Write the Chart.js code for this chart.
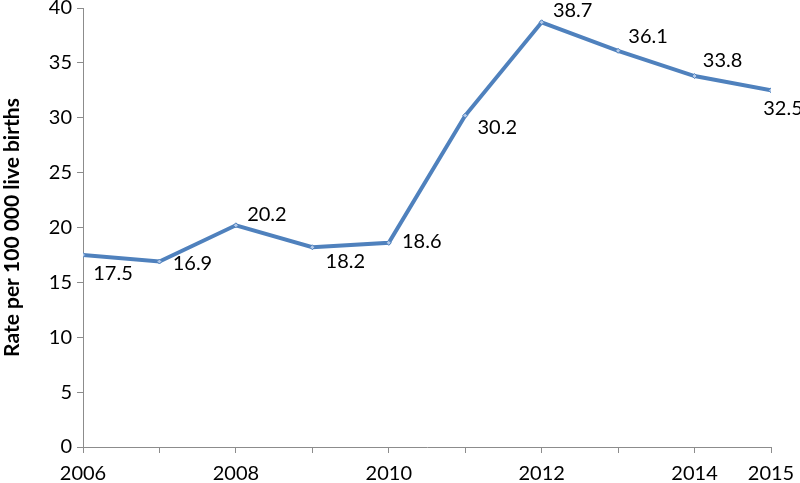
<!DOCTYPE html>
<html>
<head>
<meta charset="utf-8">
<script src="https://cdn.jsdelivr.net/npm/chart.js@4/dist/chart.umd.min.js"></script>
<style>
  html, body { margin: 0; padding: 0; background: #fff; }
  #wrap { width: 800px; height: 483px; }
</style>
</head>
<body>
<div id="wrap"><canvas id="rateChart"></canvas></div>
<script>
let years = [2006, 2007, 2008, 2009, 2010, 2011, 2012, 2013, 2014, 2015];
let rates = [17.5, 16.9, 20.2, 18.2, 18.6, 30.2, 38.7, 36.1, 33.8, 32.5];
let labeledYears = [2006, 2008, 2010, 2012, 2014, 2015];
let yTicks = [0, 5, 10, 15, 20, 25, 30, 35, 40];

// where each value label sits relative to its point (dx, dy in px)
let labelOffsets = [[30, 19], [33, 2], [31, -11], [33, 14], [33, -1], [32, 12], [31, -12], [30, -14], [28, -15], [12, 18]];

let valueLabels = {
  id: 'valueLabels',
  afterDatasetsDraw(chart) {
    let ctx = chart.ctx;
    let meta = chart.getDatasetMeta(0);
    ctx.save();
    ctx.font = '20px Lato, "Open Sans", sans-serif';
    ctx.fillStyle = '#000';
    ctx.textAlign = 'center';
    ctx.textBaseline = 'middle';
    meta.data.forEach(function (pt, i) {
      let off = labelOffsets[i];
      ctx.fillText(rates[i].toFixed(1), pt.x + off[0], pt.y + off[1]);
    });
    ctx.restore();
  }
};

let ctx = document.getElementById('rateChart').getContext('2d');
let rateChart = new Chart(ctx, {
  type: 'line',
  data: {
    datasets: [{
      data: years.map(function (y, i) { return { x: y, y: rates[i] }; }),
      borderColor: '#4f81bd',
      borderWidth: 4,
      pointStyle: 'rectRot',
      pointRadius: 2.5,
      pointBackgroundColor: '#b3c9e8',
      pointBorderColor: '#4f81bd',
      pointBorderWidth: 1,
      tension: 0
    }]
  },
  options: {
    responsive: true,
    maintainAspectRatio: false,
    animation: false,
    layout: { padding: { top: 8, right: 29, left: 0, bottom: 0 } },
    plugins: {
      legend: { display: false },
      tooltip: { enabled: false }
    },
    scales: {
      x: {
        type: 'linear',
        min: 2006,
        max: 2015,
        afterBuildTicks: function (scale) {
          scale.ticks = years.map(function (y) { return { value: y }; });
        },
        afterFit: function (scale) {
          scale.height = 36;
          scale.paddingLeft = 0;
          scale.paddingRight = 0;
        },
        grid: { drawOnChartArea: false, drawTicks: true, tickLength: 6, color: '#8c8c8c' },
        border: { color: '#8c8c8c', width: 1 },
        ticks: {
          autoSkip: false,
          maxRotation: 0,
          padding: 9,
          color: '#000',
          font: { size: 20, family: 'Lato, "Open Sans", sans-serif' },
          callback: function (v) { return labeledYears.indexOf(v) >= 0 ? String(v) : ''; }
        }
      },
      y: {
        min: 0,
        max: 40,
        afterBuildTicks: function (scale) {
          scale.ticks = yTicks.map(function (v) { return { value: v }; });
        },
        afterFit: function (scale) {
          scale.width = 83;
          scale.paddingTop = 0;
          scale.paddingBottom = 0;
        },
        grid: { drawOnChartArea: false, drawTicks: true, tickLength: 6, color: '#8c8c8c' },
        border: { color: '#8c8c8c', width: 1 },
        ticks: {
          padding: 5,
          color: '#000',
          font: { size: 20, family: 'Lato, "Open Sans", sans-serif' }
        },
        title: {
          display: true,
          text: 'Rate per 100 000 live births',
          color: '#000',
          padding: { top: 0, bottom: 4 },
          font: { size: 21, weight: 'bold', family: 'Lato, "Open Sans", sans-serif' }
        }
      }
    }
  },
  plugins: [valueLabels]
});
</script>
</body>
</html>
